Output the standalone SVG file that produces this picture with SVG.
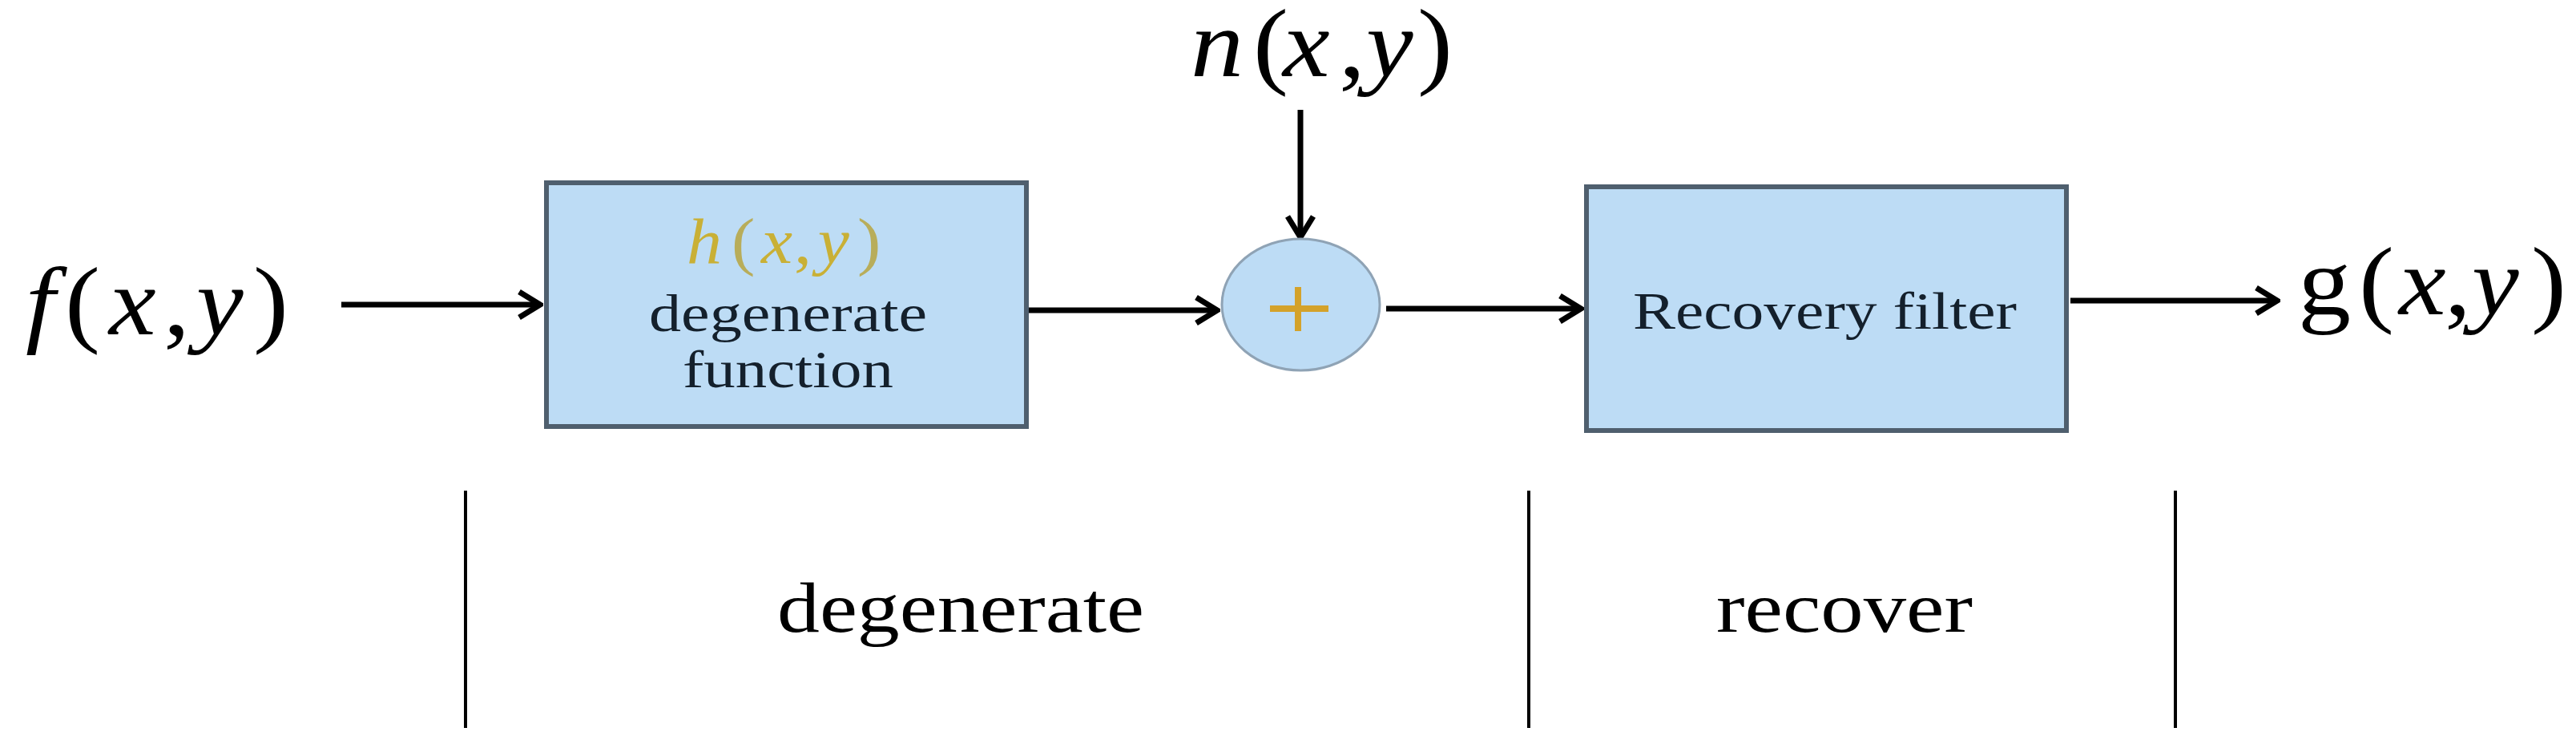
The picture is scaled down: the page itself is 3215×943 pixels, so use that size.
<svg xmlns="http://www.w3.org/2000/svg" width="3215" height="943" viewBox="0 0 3215 943">
<style>
.serif{font-family:"Liberation Serif","Times New Roman",serif;}
.it{font-style:italic;}
.box{fill:#bddcf5;stroke:#4f5f6e;stroke-width:6;}
.boxtxt{fill:#14202c;}
.conn{stroke:#000;stroke-width:7;fill:none;}
.sep{stroke:#000;stroke-width:4;}
</style>
<defs>
<marker id="arr" markerUnits="userSpaceOnUse" viewBox="0 0 34 40" refX="30" refY="20" markerWidth="34" markerHeight="40" orient="auto">
<path d="M4,4 L30,20 L4,36" fill="none" stroke="#000" stroke-width="7" stroke-linejoin="miter"/>
</marker>
</defs>
<rect width="3215" height="943" fill="#ffffff"/>

<g id="connectors">
<line class="conn" x1="426" y1="380" x2="674" y2="380" marker-end="url(#arr)"/>
<line class="conn" x1="1283" y1="387" x2="1519" y2="387" marker-end="url(#arr)"/>
<line class="conn" x1="1623" y1="137" x2="1623" y2="296" marker-end="url(#arr)"/>
<line class="conn" x1="1730" y1="385" x2="1973" y2="385" marker-end="url(#arr)"/>
<line class="conn" x1="2584" y1="375" x2="2842" y2="375" marker-end="url(#arr)"/>
</g>

<g id="input-f">
<text class="serif" font-size="120" fill="#000" transform="scale(1.1,1)" y="417"><tspan class="it" x="29">f</tspan><tspan x="73.6">(</tspan><tspan class="it" x="123.6">x</tspan><tspan x="185.5">,</tspan><tspan class="it" x="222.7">y</tspan><tspan x="287.3">)</tspan></text>
</g>

<g id="noise-n">
<text class="serif" font-size="120" fill="#000" transform="scale(1.1,1)" y="95"><tspan class="it" x="1351">n</tspan><tspan x="1421.8">(</tspan><tspan class="it" x="1455.5">x</tspan><tspan x="1519">,</tspan><tspan class="it" x="1550">y</tspan><tspan x="1608.2">)</tspan></text>
</g>

<g id="degenerate-function">
<rect class="box" x="682" y="228" width="599" height="304"/>
<text class="serif" font-size="80" fill="#c9b036" transform="scale(1.1,1)" y="328"><tspan class="it" x="779">h</tspan><tspan x="830" fill="#b8ad5a">(</tspan><tspan class="it" x="863.6">x</tspan><tspan x="901">,</tspan><tspan class="it" x="928">y</tspan><tspan x="972.7" fill="#b8ad5a">)</tspan></text>
<text class="serif boxtxt" font-size="66" x="810" y="413" textLength="347" lengthAdjust="spacingAndGlyphs">degenerate</text>
<text class="serif boxtxt" font-size="66" x="852" y="483" textLength="263" lengthAdjust="spacingAndGlyphs">function</text>
</g>

<g id="adder">
<ellipse cx="1623.5" cy="380" rx="98.5" ry="82" fill="#bddcf5" stroke="#8fa3b5" stroke-width="3"/>
<line x1="1585" y1="385" x2="1658" y2="385" stroke="#d4a22a" stroke-width="8"/>
<line x1="1620" y1="358" x2="1620" y2="413" stroke="#d4a22a" stroke-width="8"/>
</g>

<g id="recovery-filter">
<rect class="box" x="1980" y="233" width="599" height="304"/>
<text class="serif boxtxt" font-size="65" x="2038" y="410" textLength="479" lengthAdjust="spacingAndGlyphs">Recovery filter</text>
</g>

<g id="output-g">
<text class="serif" font-size="120" fill="#000" transform="scale(1.1,1)" y="392"><tspan x="2607.3">g</tspan><tspan x="2676.4">(</tspan><tspan class="it" x="2721.8">x</tspan><tspan x="2773.6">,</tspan><tspan class="it" x="2804.5">y</tspan><tspan x="2871.8">)</tspan></text>
</g>

<g id="stages">
<line class="sep" x1="581" y1="612" x2="581" y2="908"/>
<line class="sep" x1="1908" y1="612" x2="1908" y2="908"/>
<line class="sep" x1="2715" y1="612" x2="2715" y2="908"/>
<text class="serif" font-size="88" fill="#000" x="970" y="788" textLength="458" lengthAdjust="spacingAndGlyphs">degenerate</text>
<text class="serif" font-size="88" fill="#000" x="2142" y="788" textLength="320" lengthAdjust="spacingAndGlyphs">recover</text>
</g>
</svg>
